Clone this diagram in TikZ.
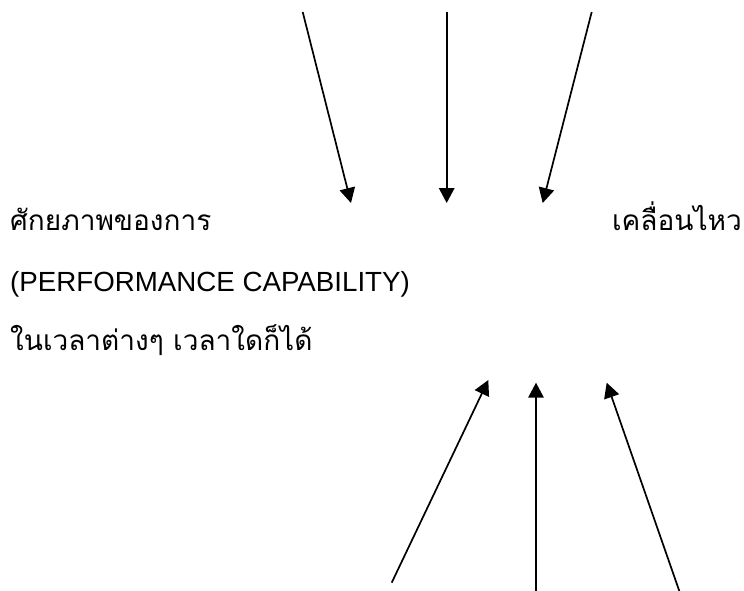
\documentclass[tikz,border=0pt]{standalone}
\usepackage{fontspec}
\setmainfont{Liberation Sans}
\newfontfamily\thaifont[Script=Thai]{Loma}
\usetikzlibrary{arrows.meta}
\begin{document}
\begin{tikzpicture}[x=1pt,y=-1pt,
  arr/.style={line width=1.7pt,-{Triangle[length=15pt,width=15.5pt]}},
  lbl/.style={inner sep=0pt,font=\fontsize{27.7}{30}\selectfont},
  thlbl/.style={inner sep=0pt,font=\thaifont\fontsize{28}{30}\selectfont}]
\useasboundingbox (0,0) rectangle (744,591);
% top arrows
\coordinate (a1s) at (302.7,12);
\coordinate (a1e) at (351,203);
\coordinate (a2s) at (446.7,12);
\coordinate (a2e) at (446.7,203);
\coordinate (a3s) at (591.7,12);
\coordinate (a3e) at (542.7,203);
% bottom arrows
\coordinate (b1s) at (391.7,582.7);
\coordinate (b1e) at (488.3,380);
\coordinate (b2s) at (536,591);
\coordinate (b2e) at (536,382.7);
\coordinate (b3s) at (679.3,591);
\coordinate (b3e) at (606.7,382.7);
\draw[arr] (a1s) -- (a1e);
\draw[arr] (a2s) -- (a2e);
\draw[arr] (a3s) -- (a3e);
\draw[arr] (b1s) -- (b1e);
\draw[arr] (b2s) -- (b2e);
\draw[arr] (b3s) -- (b3e);
% texts
\node[thlbl,anchor=base west] (t1) at (10,230) {ศักยภาพของการ};
\node[thlbl,anchor=base east] (t2) at (742,230) {เคลื่อนไหว};
\node[lbl,anchor=base west] (t3) at (10,291) {(PERFORMANCE CAPABILITY)};
\node[thlbl,anchor=base west] (t4) at (10,350) {ในเวลาต่างๆ เวลาใดก็ได้};
\end{tikzpicture}
\end{document}
